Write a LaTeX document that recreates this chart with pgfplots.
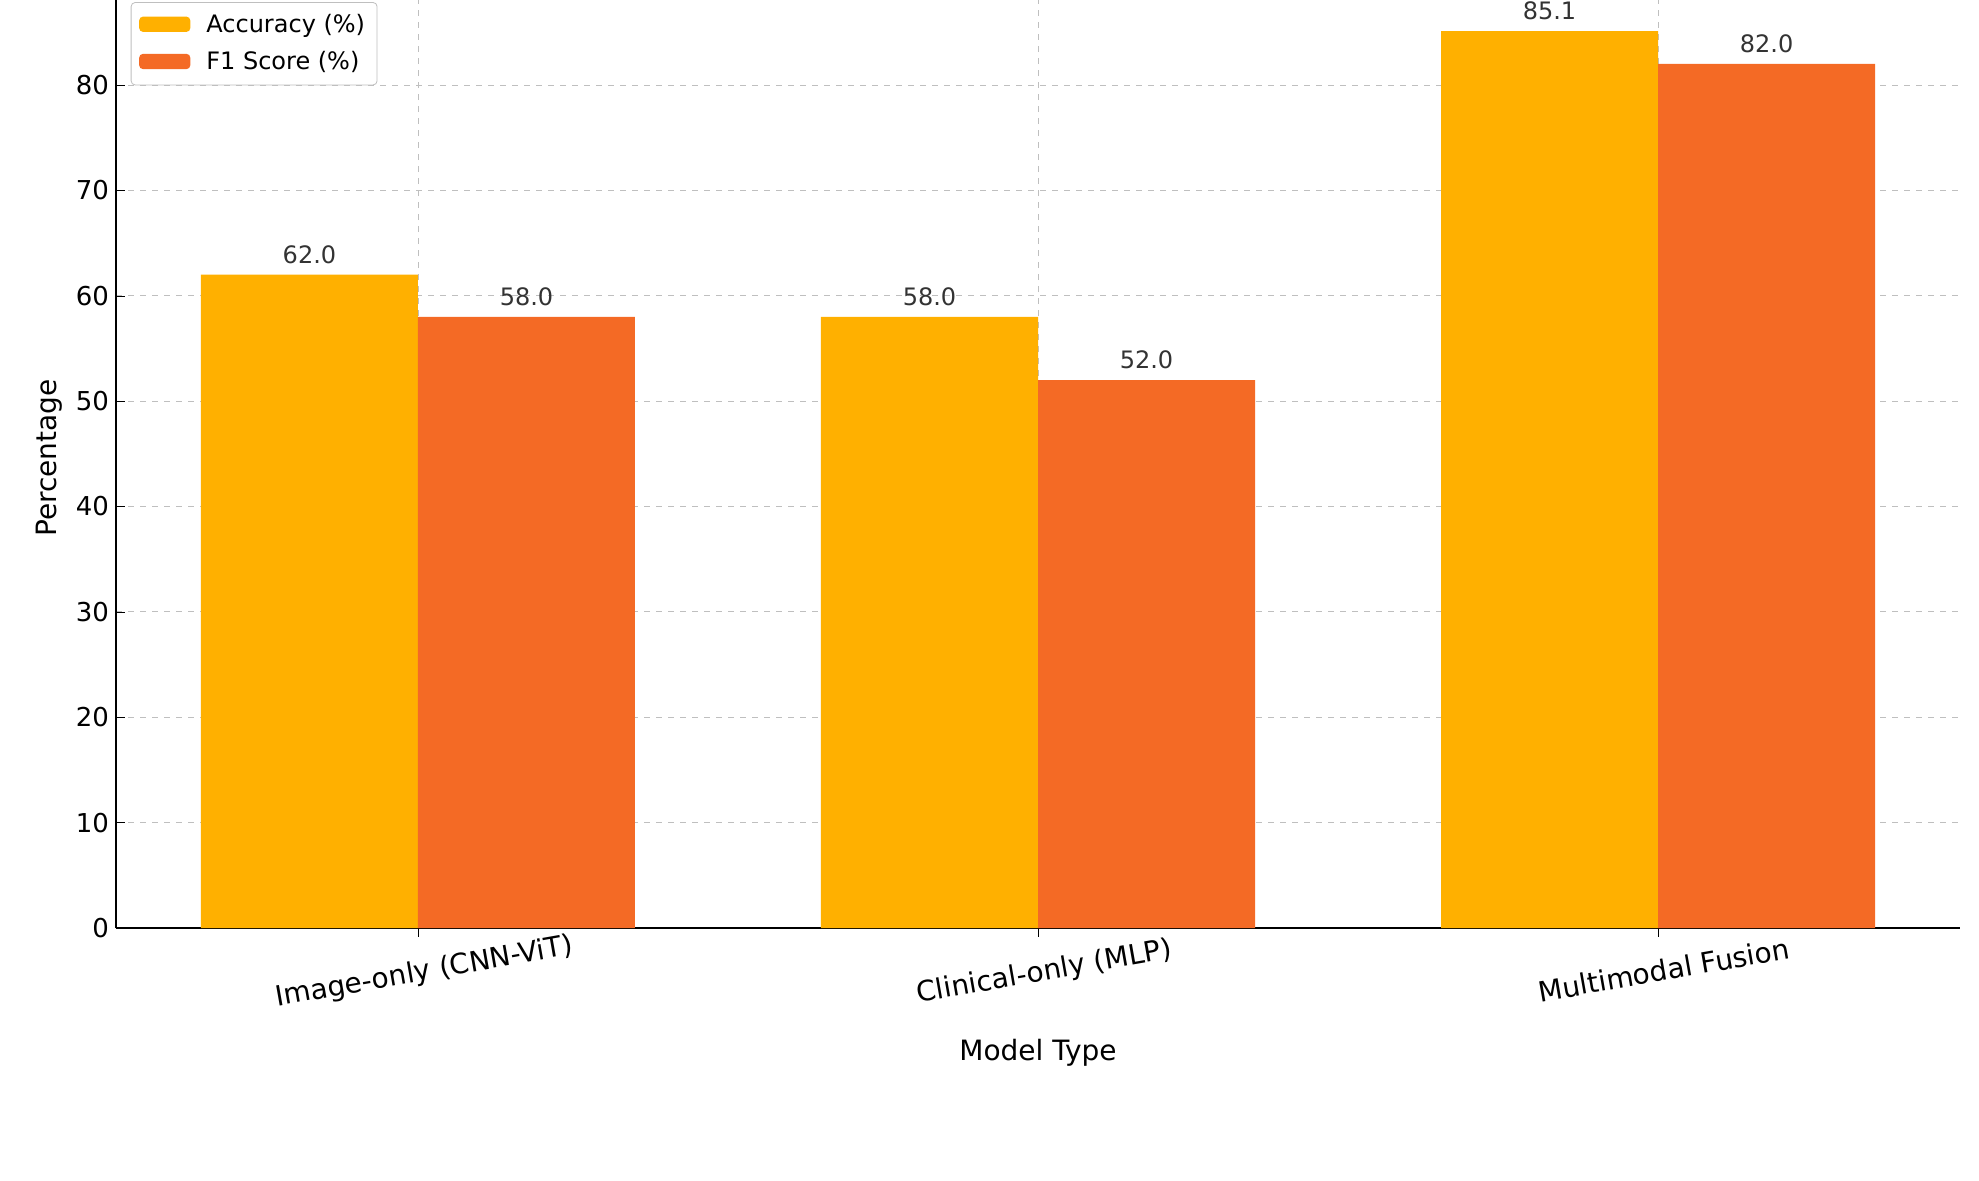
\documentclass[border=0pt]{standalone}
\usepackage{pgfplots}
\pgfplotsset{compat=1.18}
\usepackage{fontspec}
\setmainfont{DejaVu Sans}
\definecolor{acc}{RGB}{255,176,0}
\definecolor{fone}{RGB}{244,106,37}
\begin{document}
\begin{tikzpicture}
\path[use as bounding box] (-58pt,-126pt) rectangle (931.5pt,464pt);
\begin{axis}[
  scale only axis, width=922pt, height=470pt,
  at={(0,0)},
  ybar, bar width=0.35, bar shift auto=false,
  xmin=-0.487, xmax=2.487, ymin=0, ymax=89.2,
  xtick={0,1,2},
  xticklabels={Image-only (CNN-ViT),Clinical-only (MLP),Multimodal Fusion},
  xticklabel style={rotate=10, anchor=north, font=\fontsize{14}{16}\selectfont, yshift=-8pt},
  ytick={0,10,...,80},
  yticklabel style={font=\fontsize{13}{15}\selectfont},
  /pgf/number format/assume math mode=true,
  axis x line*=bottom, axis y line*=left,
  axis line style={black, line width=0.8pt},
  grid=major, major grid style={dashed, gray!50},
  tick style={black},
  xlabel={Model Type}, ylabel={Percentage},
  xlabel style={yshift=-6pt},
  label style={font=\fontsize{14}{16}\selectfont},
  title={Performance Comparison of Diagnostic Models},
  title style={font=\fontsize{20}{22}\selectfont, color=black!80, yshift=2pt},
  nodes near coords,
  nodes near coords style={font=\fontsize{12}{14}\selectfont, color=black!80, yshift=2pt, /pgf/number format/.cd, fixed, fixed zerofill, precision=1, assume math mode=true},
  legend style={at={(0.008,0.985)}, anchor=north west, font=\fontsize{12}{14}\selectfont, draw=gray!50, rounded corners=2pt, row sep=4pt, inner sep=4pt},
  legend cell align=left,
  legend image code/.code={\fill[#1] (0cm,-0.12cm) rectangle (0.9cm,0.15cm);},
]
\addplot[fill=acc, draw=none, bar shift=-0.175] coordinates {(0,62.0) (1,58.0) (2,85.1)};
\addplot[fill=fone, draw=none, bar shift=0.175] coordinates {(0,58.0) (1,52.0) (2,82.0)};
\legend{\hspace{6pt}Accuracy (\%),\hspace{6pt}F1 Score (\%)}
\end{axis}
\end{tikzpicture}
\end{document}
